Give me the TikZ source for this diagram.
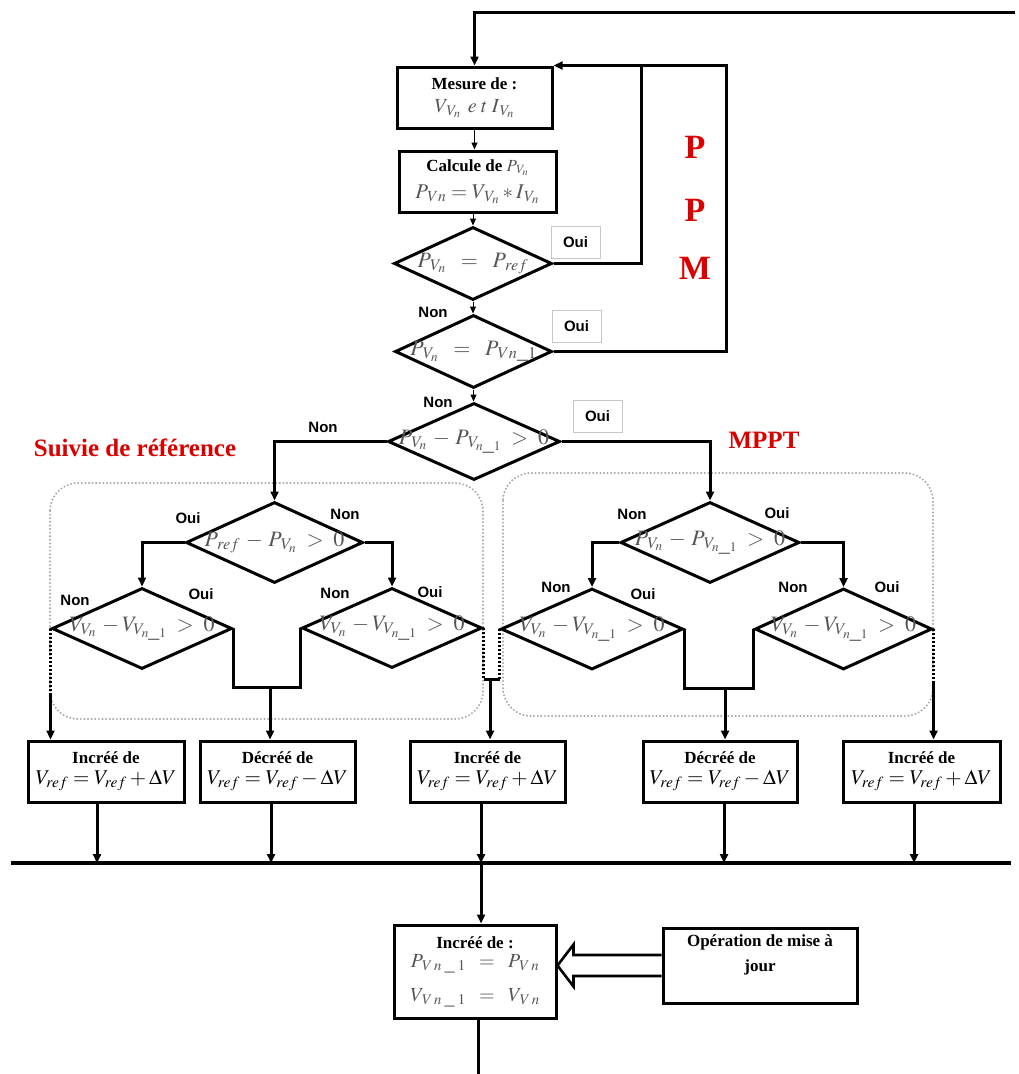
\documentclass[tikz,border=0pt]{standalone}
\usepackage{mathptmx}
\usepackage{fontspec}
\setmainfont{Liberation Serif}
\newfontfamily\arialfont{Liberation Sans}
\usetikzlibrary{shapes.geometric,arrows.meta,calc}
\definecolor{fgray}{RGB}{85,85,85}
\definecolor{pred}{RGB}{218,0,0}
\begin{document}
\begin{tikzpicture}[x=1pt,y=-1pt,
  ln/.style={line width=3pt},
  arr/.style={line width=3pt,-{Triangle[length=9pt,width=8pt]}},
  thinarr/.style={line width=1pt,-{Triangle[length=7pt,width=6pt]}},
  dotln/.style={line width=3pt,dash pattern=on 2pt off 2pt},
  box/.style={draw,line width=3pt,rectangle,inner sep=0pt,align=center},
  dia/.style={draw,line width=3pt,diamond,inner sep=0pt},
  frm/.style={text=fgray,font=\fontsize{22}{24}\selectfont,inner sep=0pt},
  yn/.style={font=\arialfont\bfseries\fontsize{15}{17}\selectfont,inner sep=0pt},
  ybox/.style={yn,draw=black!22,line width=0.6pt,minimum width=49pt,minimum height=32pt},
  redtxt/.style={text=pred,inner sep=0pt},
  grp/.style={draw=black!35,line width=2.2pt,dash pattern=on 0pt off 3.6pt,line cap=round,rounded corners=28pt},
]
\useasboundingbox (0,0) rectangle (1019,1074);

% group frames
\draw[grp] (50,483) rectangle (483,719);
\draw[grp] (503,473) rectangle (933,716);

% top boxes
\node[box,minimum width=155pt,minimum height=61pt] (mes) at (474.5,97.5)
  {\bfseries\fontsize{17}{20}\selectfont Mesure de :\\[9pt]
   {\color{fgray}\fontsize{20}{20}\selectfont $V_{\,V_n}\;\,e\;t\;I_{\,V_n}$}};
\node[box,minimum width=157pt,minimum height=61pt] (calc) at (477.5,181.5)
  {\bfseries\fontsize{17}{20}\selectfont Calcule de {\color{fgray}$P_{\,V_n}$}\\[8pt]
   {\color{fgray}\fontsize{21}{22}\selectfont $P_{\,Vn}=V_{\,V_n}*I_{\,V_n}$}};

% diamonds
\node[dia,minimum width=158pt,minimum height=73pt,label={[frm]center:$P_{\,V_n}\;\;=\;\;P_{\,ref}$}] (d1) at (473,263.5) {};
\node[dia,minimum width=157pt,minimum height=73pt,label={[frm]center:$P_{\,V_n}\;\;=\;\;P_{\,Vn\_1}$}] (d2) at (473.5,351.5) {};
\node[dia,minimum width=172pt,minimum height=77pt,label={[frm]center:$P_{\,V_n}\,-\,P_{\,V_{n\_1}}\;>\;0$}] (d3) at (474,441.5) {};
\node[dia,minimum width=177pt,minimum height=81pt,label={[frm]center:$P_{\,ref}\,-\,P_{\,V_n}\;>\;0$}] (d4) at (274.5,542.5) {};
\node[dia,minimum width=179pt,minimum height=81pt,label={[frm]center:$P_{\,V_n}\,-\,P_{\,V_{n\_1}}\;>\;0$}] (d5) at (710,542.5) {};
\node[dia,minimum width=180pt,minimum height=81pt,label={[frm]center:$V_{V_n}\,-V_{V_{n\_1}}\;>\;0$}] (d6) at (142,628.5) {};
\node[dia,minimum width=180pt,minimum height=80pt,label={[frm]center:$V_{V_n}\,-V_{V_{n\_1}}\;>\;0$}] (d7) at (392,628) {};
\node[dia,minimum width=182pt,minimum height=81pt,label={[frm]center:$V_{V_n}\,-V_{V_{n\_1}}\;>\;0$}] (d8) at (592,629) {};
\node[dia,minimum width=177pt,minimum height=81pt,label={[frm]center:$V_{V_n}\,-V_{V_{n\_1}}\;>\;0$}] (d9) at (843.5,629) {};

% bottom boxes
\node[box,minimum width=156pt,minimum height=61pt] (b1) at (106,771.5)
  {\bfseries\fontsize{17}{20}\selectfont Incréé de\\[5pt] {\fontsize{21}{22}\selectfont $V_{ref}=V_{ref}+\Delta V$}};
\node[box,minimum width=155pt,minimum height=61pt] (b2) at (277.5,771.5)
  {\bfseries\fontsize{17}{20}\selectfont Décréé de\\[5pt] {\fontsize{21}{22}\selectfont $V_{ref}=V_{ref}-\Delta V$}};
\node[box,minimum width=155pt,minimum height=61pt] (b3) at (487.5,771.5)
  {\bfseries\fontsize{17}{20}\selectfont Incréé de\\[5pt] {\fontsize{21}{22}\selectfont $V_{ref}=V_{ref}+\Delta V$}};
\node[box,minimum width=154pt,minimum height=61pt] (b4) at (720,771.5)
  {\bfseries\fontsize{17}{20}\selectfont Décréé de\\[5pt] {\fontsize{21}{22}\selectfont $V_{ref}=V_{ref}-\Delta V$}};
\node[box,minimum width=157pt,minimum height=61pt] (b5) at (921.5,771.5)
  {\bfseries\fontsize{17}{20}\selectfont Incréé de\\[5pt] {\fontsize{21}{22}\selectfont $V_{ref}=V_{ref}+\Delta V$}};

\node[box,minimum width=162pt,minimum height=93pt] (upd) at (475,971.5)
  {\bfseries\fontsize{17}{20}\selectfont Incréé de :\\[5pt]
   {\color{fgray}\fontsize{20}{26}\selectfont $P_{\,V\,n\;\_\;1}\;\;=\;\;P_{\,V\,n}$}\\[14pt]
   {\color{fgray}\fontsize{20}{26}\selectfont $V_{\,V\,n\;\_\;1}\;\;=\;\;V_{\,V\,n}$}};
\node[box,minimum width=194pt,minimum height=75pt,
  label={[yshift=11pt,align=center,font=\bfseries\fontsize{17}{25}\selectfont]center:Opération de mise à\\jour}] (op) at (760,965.5) {};

% Oui / Non labels
\node[ybox] (o1) at (575.5,242) {Oui};
\node[ybox] (o2) at (576.5,326) {Oui};
\node[ybox] (o3) at (597.5,416.5) {Oui};
\node[yn] (n1) at (433,312) {Non};
\node[yn] (n2) at (438,402) {Non};
\node[yn] (n3) at (323,427) {Non};
\node[yn] (o4) at (188,518) {Oui};
\node[yn] (n4) at (345,514) {Non};
\node[yn] (n6) at (75,600) {Non};
\node[yn] (o6) at (201,594) {Oui};
\node[yn] (n7) at (335,593) {Non};
\node[yn] (o7) at (430,592) {Oui};
\node[yn] (n5) at (632,514) {Non};
\node[yn] (o5) at (777,513) {Oui};
\node[yn] (n8) at (556,587) {Non};
\node[yn] (o8) at (643,594) {Oui};
\node[yn] (n9) at (793,587) {Non};
\node[yn] (o9) at (887,587) {Oui};

% red titles
\node[redtxt,font=\bfseries\fontsize{34}{36}\selectfont] (pp1) at (695,147) {P};
\node[redtxt,font=\bfseries\fontsize{34}{36}\selectfont] (pp2) at (695,210) {P};
\node[redtxt,font=\bfseries\fontsize{34}{36}\selectfont] (pp3) at (695,268) {M};
\node[redtxt,font=\bfseries\fontsize{25}{28}\selectfont] (suiv) at (135,448) {Suivie de référence};
\node[redtxt,font=\bfseries\fontsize{25}{28}\selectfont] (mppt) at (764,440) {MPPT};

% coordinates
\coordinate (topR) at (1015,12);
\path (mes.north east) ++(88,0) coordinate (j1) ++(85,0) coordinate (j2);
\coordinate (u1) at (270,687);
\coordinate (u2) at (490,679);
\coordinate (u3) at (725,688);
\coordinate (c6) at (52,695);
\coordinate (c9) at (932,683);
\coordinate (busL) at (11,863);
\coordinate (busR) at (1011,863);
\coordinate (busC) at (481,863);
\coordinate (endB) at (478,1074);

% top connectors
\draw[arr] (topR) -- (topR -| mes.north) -- (mes.north);
\draw[thinarr] (mes.south) -- (mes.south |- calc.north);
\draw[thinarr] (d1.north |- calc.south) -- (d1.north);
\draw[thinarr] (d1.south) -- (d1.south |- d2.north);
\draw[thinarr] (d2.south) -- (d2.south |- d3.north);
\draw[arr] (d1.east) -| (j1) -- (mes.north east);
\draw[ln] (d2.east) -| (j2) -- (j1);

% branches
\draw[arr] (d3.west) -| (d4.north);
\draw[arr] (d3.east) -| (d5.north);
\draw[arr] (d4.west) -| (d6.north);
\draw[arr] (d4.east) -| (d7.north);
\draw[arr] (d5.west) -| (d8.north);
\draw[arr] (d5.east) -| (d9.north);

% merges
\draw[ln] (d6.east) |- (u1) -| (d7.west);
\draw[arr] (u1) -- (u1 |- b2.north);
\draw[dotln] (d7.east) -- (d7.east |- u2);
\draw[dotln] (d8.west) -- (d8.west |- u2);
\draw[ln] (d7.east |- u2) -- (d8.west |- u2);
\draw[arr] (u2) -- (u2 |- b3.north);
\draw[ln] (d8.east) |- (u3) -| (d9.west);
\draw[arr] (u3) -- (u3 |- b4.north);
\draw[dotln] (d6.west) -- (d6.west |- c6);
\draw[arr] (d6.west |- c6) -- (d6.west |- b1.north);
\draw[dotln] (d9.east) -- (d9.east |- c9);
\draw[arr] (d9.east |- c9) -- (d9.east |- b5.north);

% bus
\draw[line width=3.4pt] (busL) -- (busR);
\draw[arr] ([xshift=-9pt]b1.south) -- ([xshift=-9pt]b1.south |- busL);
\draw[arr] ([xshift=-6.5pt]b2.south) -- ([xshift=-6.5pt]b2.south |- busL);
\draw[arr] ([xshift=-6.5pt]b3.south) -- ([xshift=-6.5pt]b3.south |- busL);
\draw[arr] ([xshift=4pt]b4.south) -- ([xshift=4pt]b4.south |- busL);
\draw[arr] ([xshift=-7.5pt]b5.south) -- ([xshift=-7.5pt]b5.south |- busL);
\draw[arr] (busC) -- (busC |- upd.north);
\draw[ln] (upd.south -| endB) -- (endB);

% hollow update arrow
\draw[line width=2.6pt,line join=miter]
  ($(op.west)+(0,-10.5)$) -- ++(-88,0) -- ++(0,-10.5)
  -- (upd.east |- op.west)
  -- ($(op.west)+(-88,21)$) -- ++(0,-10.5) -- ($(op.west)+(0,10.5)$);
\end{tikzpicture}
\end{document}
